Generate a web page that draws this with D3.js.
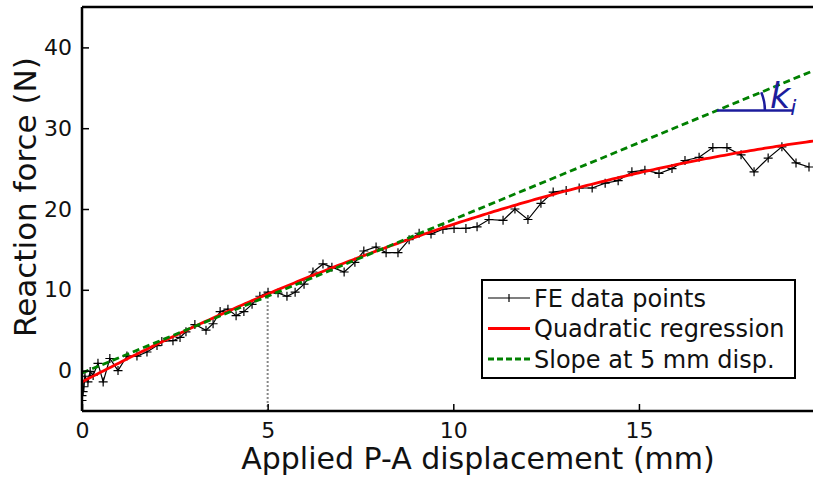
<!DOCTYPE html>
<html>
<head>
<meta charset="utf-8">
<script src="https://cdn.jsdelivr.net/npm/d3@7"></script>
<style>
  body { margin: 0; background: #fff; }
  text { font-family: "DejaVu Sans", sans-serif; }
</style>
</head>
<body>
<svg id="chart" width="813" height="477"></svg>
<script>
// FE data points: displacement (mm)
const feX = [0, 0, 0.03, 0.05, 0.08, 0.16, 0.22, 0.30, 0.43, 0.57, 0.75, 0.97, 1.21, 1.48, 1.75, 2.02, 2.15, 2.45, 2.64, 2.80,
  3.04, 3.34, 3.53, 3.72, 3.93, 4.15, 4.36, 4.58, 4.79, 5.01, 5.28, 5.52, 5.74, 5.98, 6.22, 6.49, 6.73,
  7.06, 7.35, 7.59, 7.92, 8.19, 8.51, 8.81, 9.08, 9.40, 9.72, 10.02, 10.34, 10.64,
  10.96, 11.34, 11.66, 12.01, 12.36, 12.69, 13.04, 13.39, 13.74, 14.09, 14.44, 14.81, 15.16,
  15.54, 15.89, 16.24, 16.62, 16.99, 17.37, 17.75, 18.10, 18.48, 18.85, 19.23, 19.58];
// FE data points: reaction force (N)
const feY = [-3.7, -3.1, -2.6, -2.0, -0.7, -1.4, -0.1, -0.6, 0.9, -1.4, 1.5, 0.0, 1.8, 1.8, 2.3, 3.1, 3.6, 3.7, 4.1, 4.8,
  5.7, 5.0, 5.8, 7.3, 7.6, 6.8, 7.3, 8.2, 9.2, 9.7, 9.6, 9.2, 9.7, 10.7, 12.2, 13.2, 12.8,
  12.2, 13.4, 14.8, 15.3, 14.6, 14.6, 16.2, 17.0, 16.9, 17.5, 17.6, 17.6, 17.8,
  18.7, 18.6, 20.0, 18.7, 20.7, 22.1, 22.3, 22.6, 22.6, 23.2, 23.5, 24.6, 24.8,
  24.4, 25.0, 26.0, 26.4, 27.6, 27.6, 26.7, 24.6, 26.3, 27.7, 25.7, 25.2];

// quadratic regression coefficients: F = a + b*d + c*d^2
const quadCoef = [-1.4, 2.40, -0.045];
// slope at 5 mm: intercept, slope (N/mm)
const slopeLine = [-0.3, 1.9];
const slopeAt = 5;
const kiAt = 17.1;

const xTicks = [0, 5, 10, 15];
const yTicks = [0, 10, 20, 30, 40];

const legendLabels = ["FE data points", "Quadratic regression", "Slope at 5 mm disp."];

const svg = d3.select("#chart");
const mLeft = 82, mTop = 7, mBottom = 411;
const x = d3.scaleLinear().domain([0, 20]).range([mLeft, mLeft + 20 * 37.13]);
const y = d3.scaleLinear().domain([-5, 45]).range([mBottom, mTop]);

svg.append("defs").append("clipPath").attr("id", "clip")
  .append("rect").attr("x", mLeft).attr("y", mTop)
  .attr("width", x(20) - mLeft).attr("height", mBottom - mTop);

const plot = svg.append("g").attr("clip-path", "url(#clip)");

const quad = d => quadCoef[0] + quadCoef[1] * d + quadCoef[2] * d * d;
const slopeF = d => slopeLine[0] + slopeLine[1] * d;

// dotted guide at 5 mm
plot.append("line")
  .attr("x1", x(slopeAt)).attr("x2", x(slopeAt))
  .attr("y1", y(-5)).attr("y2", y(quad(slopeAt)))
  .attr("stroke", "#888").attr("stroke-width", 2)
  .attr("stroke-dasharray", "2,2");

// FE data line + markers
const fe = feX.map((d, i) => [d, feY[i]]);
plot.append("path")
  .datum(fe)
  .attr("fill", "none").attr("stroke", "black").attr("stroke-width", 1.2)
  .attr("d", d3.line().x(d => x(d[0])).y(d => y(d[1])));

plot.append("g").selectAll("path")
  .data(fe)
  .join("path")
  .attr("d", d => `M${x(d[0]) - 4.5},${y(d[1])}h9M${x(d[0])},${y(d[1]) - 4.5}v9`)
  .attr("stroke", "black").attr("stroke-width", 1.2);

// quadratic regression
const qx = d3.range(0, 20.01, 0.1);
plot.append("path")
  .datum(qx)
  .attr("fill", "none").attr("stroke", "#ff0000").attr("stroke-width", 2.8)
  .attr("d", d3.line().x(d => x(d)).y(d => y(quad(d))));

// slope line
plot.append("line")
  .attr("x1", x(0)).attr("y1", y(slopeF(0)))
  .attr("x2", x(20)).attr("y2", y(slopeF(20)))
  .attr("stroke", "#008000").attr("stroke-width", 2.8)
  .attr("stroke-dasharray", "7,4");

// k_i annotation
const kx = x(kiAt), ky = y(slopeF(kiAt));
const blue = "#1c1c9c";
svg.append("line")
  .attr("x1", kx).attr("y1", ky).attr("x2", kx + 76).attr("y2", ky)
  .attr("stroke", blue).attr("stroke-width", 2.5);
const ang = Math.atan2(y(slopeF(kiAt)) - y(slopeF(kiAt + 1)), x(kiAt + 1) - x(kiAt));
const r = 48;
svg.append("path")
  .attr("d", `M${kx + r},${ky} A${r},${r} 0 0 0 ${kx + r * Math.cos(ang)},${ky - r * Math.sin(ang)}`)
  .attr("fill", "none").attr("stroke", blue).attr("stroke-width", 2.5);
const kt = svg.append("text")
  .attr("x", kx + 53).attr("y", ky - 3)
  .attr("fill", blue).attr("font-size", 35).attr("font-style", "italic");
kt.append("tspan").text("k");
kt.append("tspan").attr("font-size", 22).attr("dy", 7).text("i");

// spines
svg.append("line").attr("x1", mLeft).attr("x2", mLeft).attr("y1", mTop).attr("y2", mBottom)
  .attr("stroke", "black").attr("stroke-width", 2.5);
svg.append("line").attr("x1", mLeft).attr("x2", x(20)).attr("y1", mBottom).attr("y2", mBottom)
  .attr("stroke", "black").attr("stroke-width", 2.5);
svg.append("line").attr("x1", mLeft).attr("x2", x(20)).attr("y1", mTop).attr("y2", mTop)
  .attr("stroke", "black").attr("stroke-width", 2.5);

// x axis (ticks inward)
const xAxis = svg.append("g").attr("transform", `translate(0,${mBottom})`)
  .call(d3.axisBottom(x).tickValues(xTicks).tickSizeInner(-7).tickSizeOuter(0).tickPadding(11));
xAxis.select(".domain").remove();
xAxis.selectAll(".tick line").attr("stroke-width", 1.5);
xAxis.selectAll(".tick text").attr("font-size", 22).attr("fill", "#111")
  .attr("font-family", "DejaVu Sans");

// y axis (ticks inward)
const yAxis = svg.append("g").attr("transform", `translate(${mLeft},0)`)
  .call(d3.axisLeft(y).tickValues(yTicks).tickSizeInner(-7).tickSizeOuter(0).tickPadding(10));
yAxis.select(".domain").remove();
yAxis.selectAll(".tick line").attr("stroke-width", 1.5);
yAxis.selectAll(".tick text").attr("font-size", 22).attr("fill", "#111")
  .attr("font-family", "DejaVu Sans");

// axis titles
svg.append("text").attr("x", 478).attr("y", 469).attr("text-anchor", "middle")
  .attr("font-size", 30).attr("fill", "#111").text("Applied P-A displacement (mm)");
svg.append("text").attr("transform", "translate(36,197) rotate(-90)").attr("text-anchor", "middle")
  .attr("font-size", 31).attr("fill", "#111").text("Reaction force (N)");

// legend
const lg = svg.append("g").attr("transform", "translate(482,280)");
lg.append("rect").attr("width", 313).attr("height", 98)
  .attr("fill", "white").attr("stroke", "black").attr("stroke-width", 2);
const styles = [
  { stroke: "black", w: 1.2, dash: null },
  { stroke: "#ff0000", w: 2.8, dash: null },
  { stroke: "#008000", w: 2.8, dash: "6,3" }
];
legendLabels.forEach((t, i) => {
  const yy = 18 + i * 30.5;
  lg.append("line").attr("x1", 6).attr("x2", 48).attr("y1", yy).attr("y2", yy)
    .attr("stroke", styles[i].stroke).attr("stroke-width", styles[i].w)
    .attr("stroke-dasharray", styles[i].dash);
  if (i === 0) {
    lg.append("path").attr("d", `M27,${yy - 4}v8`).attr("stroke", "black").attr("stroke-width", 1.2);
  }
  lg.append("text").attr("x", 52).attr("y", yy + 8.5).attr("font-size", 24).attr("fill", "#111").text(t);
});
</script>
</body>
</html>
